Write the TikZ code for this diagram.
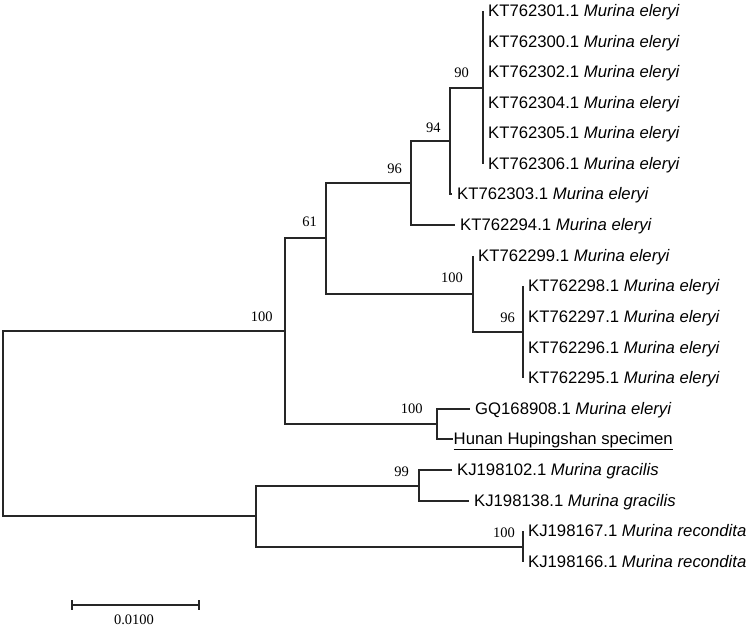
\documentclass[tikz,border=0pt]{standalone}
\usepackage{fontspec}
\setmainfont{Liberation Serif}
\setsansfont{Liberation Sans}
\usetikzlibrary{calc}

\begin{document}
\begin{tikzpicture}[x=1pt,y=-1pt,
	branch/.style={draw=black!85, line width=1.8pt},
	taxon/.style={anchor=west, font=\sffamily\fontsize{16.7}{18}\selectfont, inner xsep=5pt, inner ysep=0pt, text height=11pt, text depth=0pt},
	boot/.style={anchor=east, font=\fontsize{14.5}{16}\selectfont, inner sep=0pt}]
	\useasboundingbox (0,0) rectangle (751,628);
	% internal nodes
	\coordinate (root) at (3,424);
	\coordinate (nUp) at (285,331);
	\coordinate (nLow) at (256,516);
	\coordinate (n61) at (326,238);
	\coordinate (n96) at (411,183);
	\coordinate (n94) at (450,141);
	\coordinate (n90) at (483,88);
	\coordinate (nB100) at (473,294);
	\coordinate (nB96) at (523,332);
	\coordinate (nGQ) at (437,424);
	\coordinate (n99) at (419,486);
	\coordinate (nRec) at (523,547);
	% leaves
	\node[taxon] (t1) at (483,11) {KT762301.1 \textit{Murina eleryi}};
	\node[taxon] (t2) at (483,42) {KT762300.1 \textit{Murina eleryi}};
	\node[taxon] (t3) at (483,72) {KT762302.1 \textit{Murina eleryi}};
	\node[taxon] (t4) at (483,103) {KT762304.1 \textit{Murina eleryi}};
	\node[taxon] (t5) at (483,133) {KT762305.1 \textit{Murina eleryi}};
	\node[taxon] (t6) at (483,164) {KT762306.1 \textit{Murina eleryi}};
	\node[taxon] (t7) at (452,194) {KT762303.1 \textit{Murina eleryi}};
	\node[taxon] (t8) at (455,225) {KT762294.1 \textit{Murina eleryi}};
	\node[taxon] (t9) at (473,256) {KT762299.1 \textit{Murina eleryi}};
	\node[taxon] (t10) at (523,286) {KT762298.1 \textit{Murina eleryi}};
	\node[taxon] (t11) at (523,317) {KT762297.1 \textit{Murina eleryi}};
	\node[taxon] (t12) at (523,348) {KT762296.1 \textit{Murina eleryi}};
	\node[taxon] (t13) at (523,378) {KT762295.1 \textit{Murina eleryi}};
	\node[taxon] (t14) at (470,409) {GQ168908.1 \textit{Murina eleryi}};
	\node[taxon, inner xsep=0.5pt] (t15) at (453,439) {\underline{Hunan Hupingshan specimen}};
	\node[taxon] (t16) at (452,470) {KJ198102.1 \textit{Murina gracilis}};
	\node[taxon] (t17) at (469,501) {KJ198138.1 \textit{Murina gracilis}};
	\node[taxon] (t18) at (523,531) {KJ198167.1 \textit{Murina recondita}};
	\node[taxon] (t19) at (523,562) {KJ198166.1 \textit{Murina recondita}};
	% branches
	\draw[branch] (root) |- (nUp);
	\draw[branch] (root) |- (nLow);
	\draw[branch] (nUp) |- (n61);
	\draw[branch] (nUp) |- (nGQ);
	\draw[branch] (n61) |- (n96);
	\draw[branch] (n61) |- (nB100);
	\draw[branch] (n96) |- (n94);
	\draw[branch] (n96) |- (t8.west);
	\draw[branch] (n94) |- (n90);
	\draw[branch] (n94) |- (t7.west);
	\foreach \i in {1,...,6}
		\draw[branch] (n90) |- (t\i.west);
	\draw[branch] (nB100) |- (t9.west);
	\draw[branch] (nB100) |- (nB96);
	\foreach \i in {10,...,13}
		\draw[branch] (nB96) |- (t\i.west);
	\draw[branch] (nGQ) |- (t14.west);
	\draw[branch] (nGQ) |- (t15.west);
	\draw[branch] (nLow) |- (n99);
	\draw[branch] (nLow) |- (nRec);
	\draw[branch] (n99) |- (t16.west);
	\draw[branch] (n99) |- (t17.west);
	\draw[branch] (nRec) |- (t18.west);
	\draw[branch] (nRec) |- (t19.west);
	% bootstrap values
	\node[boot] (s90) at (469,72.7) {90};
	\node[boot] (s94) at (440.7,128) {94};
	\node[boot] (s96) at (402,169) {96};
	\node[boot] (s61) at (317,222) {61};
	\node[boot] (sUp) at (272.7,316.7) {100};
	\node[boot] (sB100) at (463,278) {100};
	\node[boot] (sB96) at (515,317.5) {96};
	\node[boot] (sGQ) at (422.7,409) {100};
	\node[boot] (s99) at (409,471.7) {99};
	\node[boot] (sRec) at (515,533) {100};
	% scale bar
	\coordinate (sbL) at (72,605);
	\coordinate (sbR) at (199,605);
	\draw[branch] (sbL) -- (sbR);
	\draw[branch] ($(sbL)+(0,-5)$) -- ($(sbL)+(0,5)$);
	\draw[branch] ($(sbR)+(0,-5)$) -- ($(sbR)+(0,5)$);
	\node[font=\fontsize{14.5}{16}\selectfont, inner sep=0pt] (sbT) at (134,620) {0.0100};
\end{tikzpicture}
\end{document}
